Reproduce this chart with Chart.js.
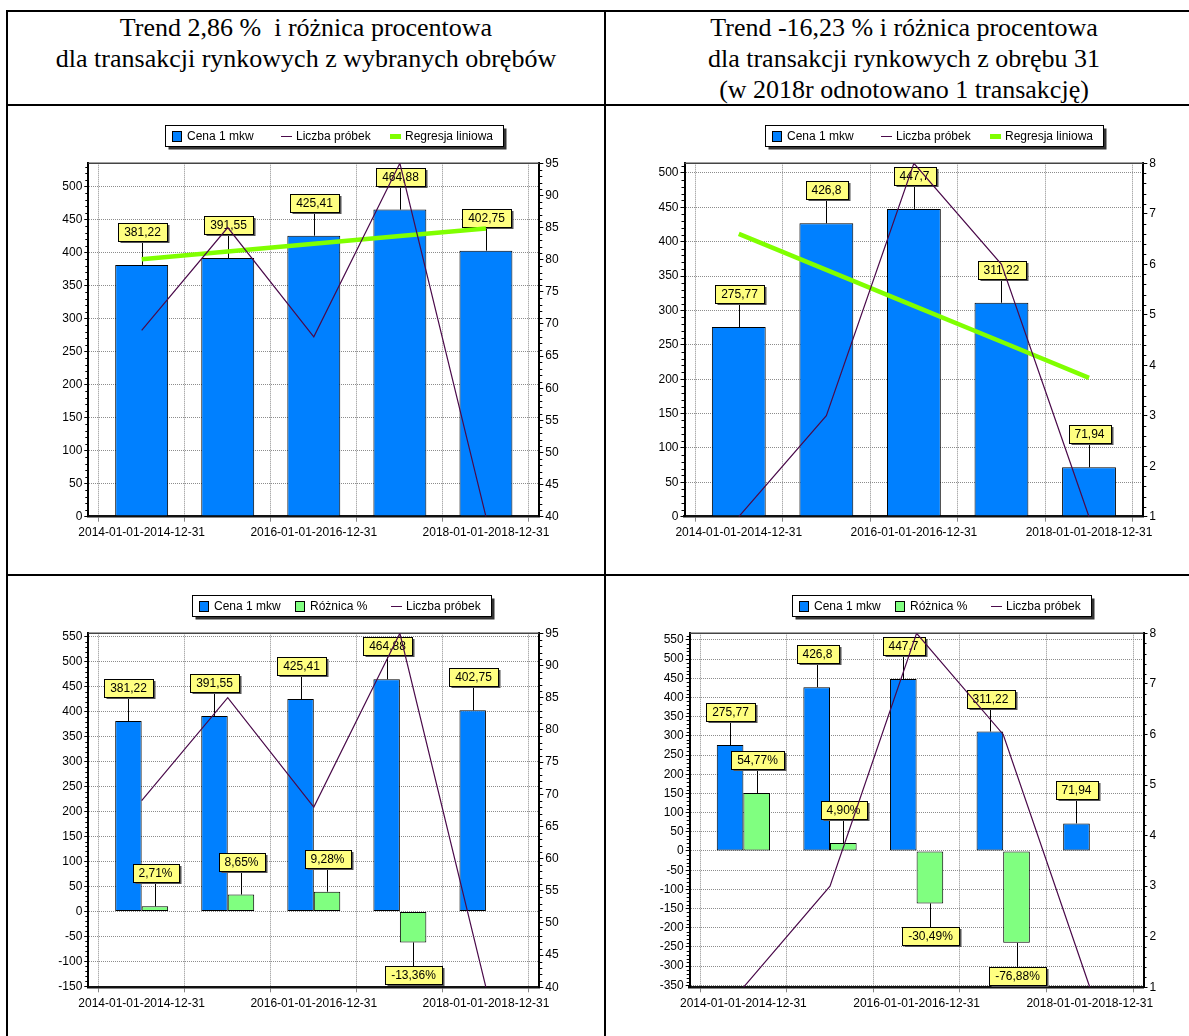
<!DOCTYPE html>
<html lang="pl">
<head>
<meta charset="utf-8">
<title>Trend</title>
<script src="https://cdn.jsdelivr.net/npm/chart.js@4.4.1/dist/chart.umd.min.js"></script>
<style>
  html, body { margin:0; padding:0; background:#fff; overflow:hidden; }
  #page { position:relative; width:1189px; height:1036px; }
  .ln { position:absolute; background:#000; }
  .hd { position:absolute; top:12px; font-family:"Liberation Serif","Times New Roman",serif; font-size:26px; line-height:31px; text-align:center; white-space:nowrap; color:#000; }
  canvas { position:absolute; }
</style>
</head>
<body>
<div id="page">
  <div class="ln" style="left:6px;top:10px;width:1200px;height:2px"></div>
  <div class="ln" style="left:6px;top:104px;width:1200px;height:2px"></div>
  <div class="ln" style="left:6px;top:574px;width:1200px;height:2px"></div>
  <div class="ln" style="left:6px;top:10px;width:2px;height:1030px"></div>
  <div class="ln" style="left:604px;top:10px;width:2px;height:1030px"></div>
  <div class="hd" style="left:8px;width:596px">Trend 2,86 %&nbsp; i różnica procentowa<br>dla transakcji rynkowych z wybranych obrębów</div>
  <div class="hd" style="left:606px;width:596px">Trend -16,23 % i różnica procentowa<br>dla transakcji rynkowych z obrębu 31<br>(w 2018r odnotowano 1 transakcję)</div>
  <canvas id="c1" width="596" height="468" style="left:8px;top:106px"></canvas>
  <canvas id="c2" width="583" height="468" style="left:606px;top:106px"></canvas>
  <canvas id="c3" width="596" height="459" style="left:8px;top:577px"></canvas>
  <canvas id="c4" width="583" height="459" style="left:606px;top:577px"></canvas>
</div>
<script>
// okresy (etykiety osi X pokazywane co drugi)
const categories = ['2014-01-01-2014-12-31', '2015-01-01-2015-12-31', '2016-01-01-2016-12-31',
                    '2017-01-01-2017-12-31', '2018-01-01-2018-12-31'];

// wybrane obręby
const cenaA     = [381.22, 391.55, 425.41, 464.88, 402.75];
const probkiA   = [69, 85, 68, 95, 40];
const regresjaA = [389.9, 401.5, 413.2, 424.8, 436.4];
const roznicaA  = [10.33, 33.86, 39.47, -62.13, null];
const procentA  = [2.71, 8.65, 9.28, -13.36, null];

// obręb 31
const cenaB     = [275.77, 426.8, 447.7, 311.22, 71.94];
const probkiB   = [1, 3, 8, 6, 1];
const regresjaB = [411.3, 359.0, 306.7, 254.4, 202.0];
const roznicaB  = [151.03, 20.9, -136.48, -239.28, null];
const procentB  = [54.77, 4.90, -30.49, -76.88, null];

Chart.defaults.font.family = '"Liberation Sans", Arial, sans-serif';
Chart.defaults.font.size = 12;
Chart.defaults.color = '#000';

function pts(arr) { return arr.map((v, i) => ({x: i, y: v})); }
function plNum(v) { return v == null ? null : String(v).replace('.', ','); }
function plPct(v) { return v == null ? null : v.toFixed(2).replace('.', ',') + '%'; }

function cenaSet(data) {
  return {type: 'bar', label: 'Cena 1 mkw', data: pts(data), yAxisID: 'y',
    backgroundColor: '#0080ff', borderColor: '#000', borderWidth: 1, borderSkipped: false,
    categoryPercentage: 0.615, barPercentage: 1, order: 3, tags: data.map(plNum)};
}
function roznicaSet(data, pct) {
  return {type: 'bar', label: 'Różnica %', data: pts(data), yAxisID: 'y',
    backgroundColor: '#80ff80', borderColor: '#000', borderWidth: 1, borderSkipped: false,
    categoryPercentage: 0.615, barPercentage: 1, order: 3, tags: pct.map(plPct)};
}
function probkiSet(data) {
  return {type: 'line', label: 'Liczba próbek', data: pts(data), yAxisID: 'y1',
    borderColor: '#4a0a4a', borderWidth: 1.2, pointRadius: 0, tension: 0, fill: false, order: 1};
}
function regresjaSet(data) {
  return {type: 'line', label: 'Regresja liniowa', data: pts(data), yAxisID: 'y',
    borderColor: '#80ff00', borderWidth: 4.5, pointRadius: 0, tension: 0, fill: false, order: 2};
}

// ramka, etykiety wartosci, legenda w ramce, drobne kreski osi
const decor = {
  id: 'decor',
  beforeDatasetsDraw(chart) {
    const a = chart.chartArea, ctx = chart.ctx;
    ctx.save();
    ctx.strokeStyle = '#444';
    ctx.lineWidth = 1.5;
    ctx.beginPath();
    ctx.moveTo(a.left, a.top);
    ctx.lineTo(a.right, a.top);
    ctx.stroke();
    ctx.restore();
  },
  afterDatasetDraw(chart, args) {
    // slupki "Cena" rysowane sa jako ostatnie z slupkow -> etykiety wszystkich slupkow teraz,
    // zeby linie (rysowane pozniej) szly po wierzchu
    if (args.index !== 0) return;
    const ctx = chart.ctx;
    ctx.save();
    ctx.font = '12px "Liberation Sans", Arial, sans-serif';
    ctx.textAlign = 'center';
    ctx.textBaseline = 'middle';
    chart.data.datasets.forEach((ds, j) => {
      if (!ds.tags) return;
      const meta = chart.getDatasetMeta(j);
      meta.data.forEach((el, i) => {
        const txt = ds.tags[i];
        if (txt == null || ds.data[i].y == null) return;
        const w = Math.round(ctx.measureText(txt).width + 12), h = 18;
        const x = Math.round(el.x) + 0.5;
        const neg = el.y > el.base;
        const top = neg ? Math.round(el.y + 24) : Math.round(el.y - 24 - h);
        ctx.strokeStyle = '#000';
        ctx.lineWidth = 1;
        ctx.beginPath();
        ctx.moveTo(x, el.y);
        ctx.lineTo(x, neg ? top : top + h);
        ctx.stroke();
        const l = Math.round(x - w / 2) + 0.5;
        ctx.fillStyle = '#555';
        ctx.fillRect(l + 2, top + 2, w, h);
        ctx.fillStyle = '#ffff80';
        ctx.fillRect(l, top + 0.5, w, h);
        ctx.strokeRect(l, top + 0.5, w, h);
        ctx.fillStyle = '#000';
        ctx.fillText(txt, x, top + h / 2 + 1);
      });
    });
    ctx.restore();
  },
  afterDraw(chart, args, opts) {
    const ctx = chart.ctx;
    ctx.save();
    // drobne kreski
    const minor = (s, step, major, left) => {
      const n = Math.round((s.max - s.min) / step);
      const start = Math.ceil(s.min / step) * step;
      ctx.strokeStyle = '#000';
      ctx.lineWidth = 1;
      for (let k = 0; k <= n; k++) {
        const v = start + k * step;
        if (v > s.max) break;
        if (Math.abs(v / major - Math.round(v / major)) < 1e-6) continue;
        const py = Math.round(s.getPixelForValue(v)) + 0.5;
        ctx.beginPath();
        if (left) { ctx.moveTo(s.right - 3, py); ctx.lineTo(s.right, py); }
        else { ctx.moveTo(s.left, py); ctx.lineTo(s.left + 3, py); }
        ctx.stroke();
      }
    };
    minor(chart.scales.y, 10, 50, true);
    minor(chart.scales.y1, opts.minorR, opts.majorR, false);

    // legenda
    const sets = chart.data.datasets;
    ctx.font = '12px "Liberation Sans", Arial, sans-serif';
    let maxW = 0;
    sets.forEach(d => { maxW = Math.max(maxW, ctx.measureText(d.label).width); });
    const col = Math.round(10 + 5 + maxW + 6);
    const x = opts.legX + 0.5, y = opts.legY + 0.5;
    const w = 6 + col * sets.length + 5, h = 21;
    ctx.fillStyle = '#333';
    ctx.fillRect(x + 3, y + 3, w, h);
    ctx.fillStyle = '#fff';
    ctx.fillRect(x, y, w, h);
    ctx.strokeStyle = '#000';
    ctx.lineWidth = 1;
    ctx.strokeRect(x, y, w, h);
    const cy = Math.round(y + h / 2);
    sets.forEach((d, k) => {
      const ix = Math.round(x + 6 + k * col);
      if (d.type === 'bar') {
        ctx.fillStyle = d.backgroundColor;
        ctx.fillRect(ix + 0.5, cy - 4.5, 9, 10);
        ctx.strokeStyle = '#000';
        ctx.strokeRect(ix + 0.5, cy - 4.5, 9, 10);
      } else {
        ctx.strokeStyle = d.borderColor;
        ctx.lineWidth = d.borderWidth > 2 ? 5 : 1;
        ctx.beginPath();
        ctx.moveTo(ix, cy + 0.5);
        ctx.lineTo(ix + 11, cy + 0.5);
        ctx.stroke();
      }
      ctx.fillStyle = '#000';
      ctx.textAlign = 'left';
      ctx.textBaseline = 'middle';
      ctx.fillText(d.label, ix + 15, cy + 1);
    });
    ctx.restore();
  }
};

function makeChart(id, datasets, g) {
  const ctx = document.getElementById(id).getContext('2d');
  return new Chart(ctx, {
    type: 'bar',
    data: {datasets: datasets},
    plugins: [decor],
    options: {
      responsive: false,
      animation: false,
      events: [],
      layout: {padding: {top: g.top, left: 0, right: 0, bottom: 0}},
      plugins: {
        legend: {display: false},
        tooltip: {enabled: false},
        decor: {legX: g.legX, legY: g.legY, minorR: g.minorR, majorR: g.rStep}
      },
      scales: {
        x: {
          type: 'linear', min: -0.62, max: 4.62, offset: false,
          afterFit: s => { s.height = g.xh; },
          grid: {color: '#8c8c8c', tickColor: '#888', tickLength: 5},
          border: {color: '#111', width: 2.5, dash: [1, 1]},
          ticks: {stepSize: 1, includeBounds: false, autoSkip: false, maxRotation: 0, padding: 4,
                  callback: v => (v % 2 === 0 ? categories[v] : '')}
        },
        y: {
          position: 'left', min: g.yMin, max: g.yMax,
          afterFit: s => { s.width = g.left; },
          grid: {color: '#8c8c8c', tickColor: '#000', tickLength: 4},
          border: {color: '#000', width: 2, dash: [1, 1]},
          ticks: {stepSize: 50, includeBounds: false, padding: 2}
        },
        y1: {
          position: 'right', min: g.rMin, max: g.rMax,
          afterFit: s => { s.width = g.right; },
          grid: {drawOnChartArea: false, tickColor: '#000', tickLength: 4},
          border: {color: '#000', width: 2},
          ticks: {stepSize: g.rStep, includeBounds: false, padding: 2}
        }
      }
    }
  });
}

makeChart('c1', [cenaSet(cenaA), probkiSet(probkiA), regresjaSet(regresjaA)],
  {left: 80.3, right: 64.7, top: 57.3, xh: 57.3, yMin: 0, yMax: 535,
   rMin: 40, rMax: 95, rStep: 5, minorR: 1, legX: 157, legY: 19});

makeChart('c2', [cenaSet(cenaB), probkiSet(probkiB), regresjaSet(regresjaB)],
  {left: 78.5, right: 45.7, top: 57.3, xh: 57.3, yMin: 0, yMax: 514,
   rMin: 1, rMax: 8, rStep: 1, minorR: 0.2, legX: 159, legY: 19});

makeChart('c3', [cenaSet(cenaA), roznicaSet(roznicaA, procentA), probkiSet(probkiA)],
  {left: 80.3, right: 64.7, top: 56.3, xh: 48.7, yMin: -152, yMax: 557,
   rMin: 40, rMax: 95, rStep: 5, minorR: 1, legX: 184, legY: 18});

makeChart('c4', [cenaSet(cenaB), roznicaSet(roznicaB, procentB), probkiSet(probkiB)],
  {left: 83.7, right: 45.5, top: 56.3, xh: 48.7, yMin: -355, yMax: 567,
   rMin: 1, rMax: 8, rStep: 1, minorR: 0.2, legX: 186, legY: 18});
</script>
</body>
</html>
